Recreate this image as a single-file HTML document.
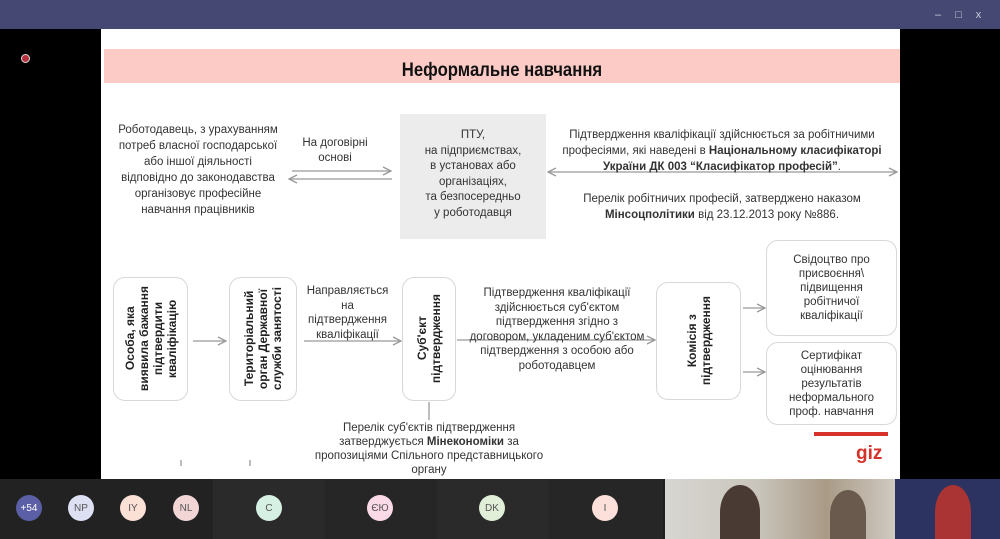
<!DOCTYPE html>
<html><head><meta charset="utf-8"><style>
*{margin:0;padding:0;box-sizing:border-box}
body{width:1000px;height:539px;background:#000;position:relative;overflow:hidden;font-family:"Liberation Sans",sans-serif;color:#222}
.a{position:absolute}
.t{position:absolute;text-align:center;font-size:11.5px;line-height:14.5px;color:#333;white-space:nowrap}
.box{position:absolute;border:1px solid #d8d8d8;border-radius:12px;background:#fff}
.v{position:absolute;display:flex;align-items:center;justify-content:center}
.v span{writing-mode:vertical-rl;transform:rotate(180deg);font-weight:bold;font-size:12px;line-height:14px;text-align:center;color:#222;white-space:nowrap}
.c{position:absolute;width:26px;height:26px;border-radius:50%;font-size:10px;display:flex;align-items:center;justify-content:center;color:#555}
</style></head><body>
<div class="a" style="left:0;top:0;width:1000px;height:29px;background:#464874"></div>
<div class="a" style="left:935px;top:9px;color:#ccd;font-size:11px;letter-spacing:14px">–□x</div>
<div class="a" style="left:21px;top:54px;width:9px;height:9px;border-radius:50%;background:#b5303c;border:1px solid #ddd"></div>
<div class="a" style="left:101px;top:29px;width:799px;height:450px;background:#fff"></div>
<div class="a" style="left:104px;top:49px;width:796px;height:34px;background:#fccbc5"></div>
<div class="a" style="left:104px;top:60px;width:796px;text-align:center;font-size:19px;font-weight:bold;color:#111;transform:scaleX(0.88)">Неформальне навчання</div>

<div class="t" style="left:98px;top:122px;width:200px;line-height:16px">Роботодавець, з урахуванням<br>потреб власної господарської<br>або іншої діяльності<br>відповідно до законодавства<br>організовує професійне<br>навчання працівників</div>
<div class="t" style="left:290px;top:136px;width:90px;line-height:15px">На договірні<br>основі</div>
<svg class="a" style="left:0;top:0" width="1000" height="539">
<g stroke="#999" stroke-width="1.3" fill="none">
<line x1="292" y1="171" x2="390" y2="171"/><polyline points="383,167 391,171 383,175"/>
<line x1="290" y1="179" x2="392" y2="179"/><polyline points="297,175 289,179 297,183"/>
<line x1="549" y1="172" x2="896" y2="172"/><polyline points="556,168 548,172 556,176"/><polyline points="889,168 897,172 889,176"/>
<line x1="193" y1="341" x2="225" y2="341"/><polyline points="218,337 226,341 218,345"/>
<line x1="304" y1="341" x2="400" y2="341"/><polyline points="393,337 401,341 393,345"/>
<line x1="457" y1="340" x2="654" y2="340"/><polyline points="647,336 655,340 647,344"/>
<line x1="743" y1="308" x2="764" y2="308"/><polyline points="757,304 765,308 757,312"/>
<line x1="743" y1="372" x2="764" y2="372"/><polyline points="757,368 765,372 757,376"/>
<line x1="429" y1="402" x2="429" y2="420"/>
<line x1="181" y1="460" x2="181" y2="466"/><line x1="250" y1="460" x2="250" y2="466"/>
</g></svg>
<div class="a" style="left:400px;top:114px;width:146px;height:125px;background:#ececec"></div>
<div class="t" style="left:400px;top:128px;width:146px;line-height:15.5px">ПТУ,<br>на підприємствах,<br>в установах або<br>організаціях,<br>та безпосередньо<br>у роботодавця</div>
<div class="t" style="left:552px;top:127px;width:340px;line-height:16px">Підтвердження кваліфікації здійснюється за робітничими<br>професіями, які наведені в <b>Національному класифікаторі<br>України ДК 003 “Класифікатор професій”</b>.</div>
<div class="t" style="left:552px;top:191px;width:340px;line-height:16px">Перелік робітничих професій, затверджено наказом<br><b>Мінсоцполітики</b> від 23.12.2013 року №886.</div>

<div class="box" style="left:113px;top:277px;width:75px;height:124px"></div>
<div class="v" style="left:113px;top:277px;width:75px;height:124px"><span>Особа, яка<br>виявила бажання<br>підтвердити<br>кваліфікацію</span></div>
<div class="box" style="left:229px;top:277px;width:68px;height:124px"></div>
<div class="v" style="left:229px;top:277px;width:68px;height:124px"><span>Територіальний<br>орган Державної<br>служби занятості</span></div>
<div class="t" style="left:300px;top:284px;width:95px">Направляється<br>на<br>підтвердження<br>кваліфікації</div>
<div class="box" style="left:402px;top:277px;width:54px;height:124px"></div>
<div class="v" style="left:402px;top:277px;width:54px;height:124px"><span>Суб'єкт<br>підтвердження</span></div>
<div class="t" style="left:460px;top:286px;width:194px">Підтвердження кваліфікації<br>здійснюється суб'єктом<br>підтвердження згідно з<br>договором, укладеним суб'єктом<br>підтвердження з особою або<br>роботодавцем</div>
<div class="t" style="left:300px;top:421px;width:258px;line-height:14px">Перелік суб'єктів підтвердження<br>затверджується <b>Мінекономіки</b> за<br>пропозиціями Спільного представницького<br>органу</div>
<div class="box" style="left:656px;top:282px;width:85px;height:118px"></div>
<div class="v" style="left:656px;top:282px;width:85px;height:118px"><span>Комісія з<br>підтвердження</span></div>
<div class="box" style="left:766px;top:240px;width:131px;height:96px"></div>
<div class="t" style="left:766px;top:253px;width:131px;line-height:14px">Свідоцтво про<br>присвоєння\<br>підвищення<br>робітничої<br>кваліфікації</div>
<div class="box" style="left:766px;top:342px;width:131px;height:83px"></div>
<div class="t" style="left:766px;top:349px;width:131px;line-height:14px">Сертифікат<br>оцінювання<br>результатів<br>неформального<br>проф. навчання</div>
<div class="a" style="left:814px;top:432px;width:74px;height:4px;background:#d6322a"></div>
<div class="a" style="left:856px;top:443px;font-size:19px;font-weight:bold;color:#d6322a">giz</div>

<div class="a" style="left:0;top:479px;width:1000px;height:60px;background:#1f1f1f"></div>
<div class="a" style="left:0;top:479px;width:213px;height:60px;background:#222"></div>
<div class="a" style="left:213px;top:479px;width:112px;height:60px;background:#2a2a2a"></div>
<div class="a" style="left:325px;top:479px;width:112px;height:60px;background:#262626"></div>
<div class="a" style="left:437px;top:479px;width:112px;height:60px;background:#2a2a2a"></div>
<div class="a" style="left:549px;top:479px;width:114px;height:60px;background:#262626"></div>
<div class="c" style="left:16px;top:495px;background:#5b5fa6;color:#fff">+54</div>
<div class="c" style="left:68px;top:495px;background:#dde0f3">NP</div>
<div class="c" style="left:120px;top:495px;background:#fbe0d6">IY</div>
<div class="c" style="left:173px;top:495px;background:#f2d6d6">NL</div>
<div class="c" style="left:256px;top:495px;background:#d6f0e3">C</div>
<div class="c" style="left:367px;top:495px;background:#fbd9e6">ЄЮ</div>
<div class="c" style="left:479px;top:495px;background:#e1eed8">DK</div>
<div class="c" style="left:592px;top:495px;background:#fde0da">I</div>
<div class="a" style="left:665px;top:479px;width:230px;height:60px;background:linear-gradient(90deg,#d8d6d2,#c9c5bc 40%,#a99a86 70%,#cfcac2)"></div>
<div class="a" style="left:720px;top:485px;width:40px;height:54px;border-radius:50% 50% 0 0;background:#4a3a34"></div>
<div class="a" style="left:830px;top:490px;width:36px;height:49px;border-radius:50% 50% 0 0;background:#6a5a4e"></div>
<div class="a" style="left:895px;top:479px;width:105px;height:60px;background:#2d3360"></div>
<div class="a" style="left:935px;top:485px;width:36px;height:54px;border-radius:50% 50% 0 0;background:#a33"></div>
</body></html>
